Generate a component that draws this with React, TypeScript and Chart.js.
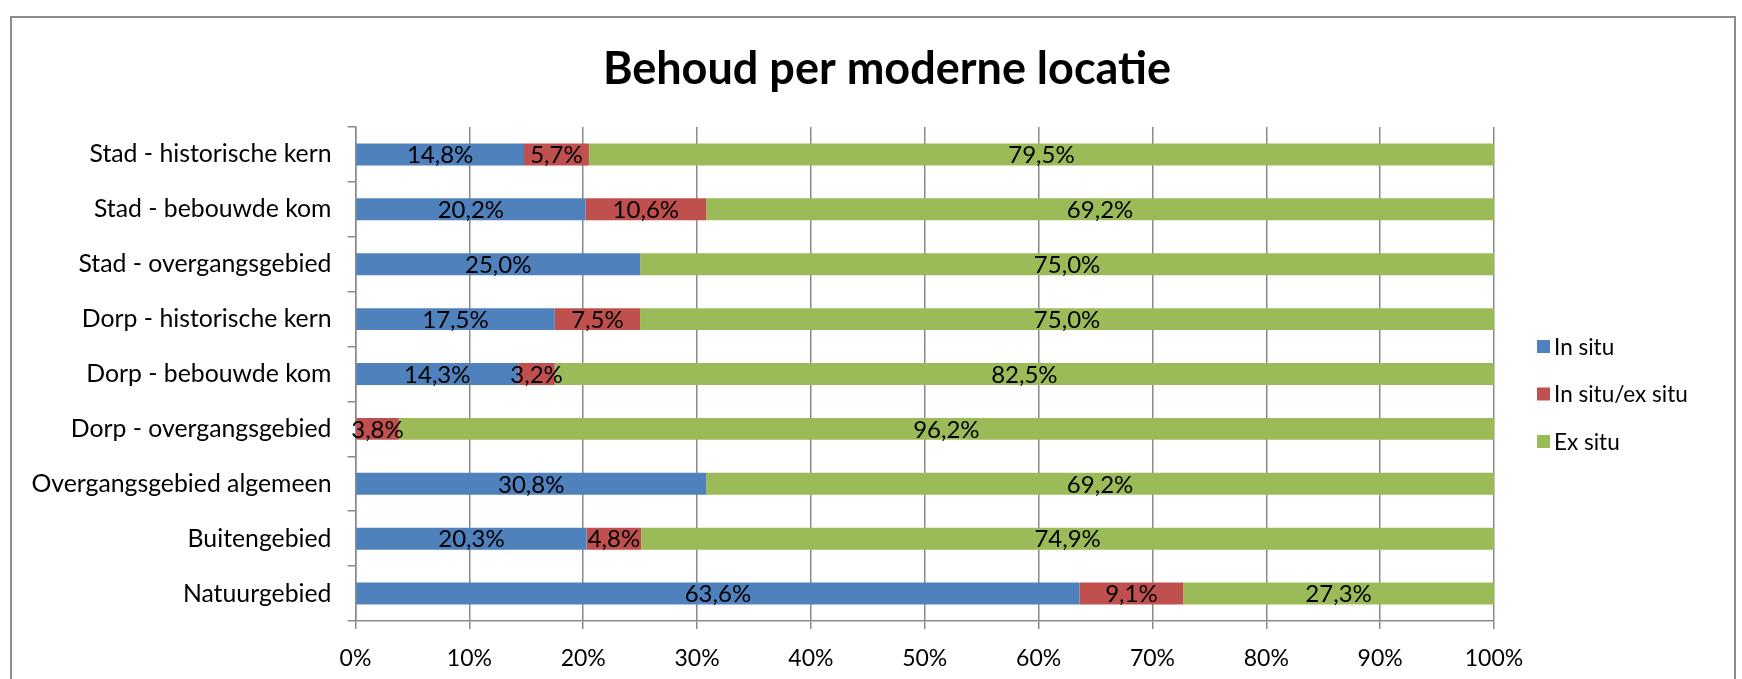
import React, { useEffect, useRef } from "react";
import { Chart, registerables } from "chart.js";

Chart.register(...registerables);

const categories = [
  "Stad - historische kern",
  "Stad - bebouwde kom",
  "Stad - overgangsgebied",
  "Dorp - historische kern",
  "Dorp - bebouwde kom",
  "Dorp - overgangsgebied",
  "Overgangsgebied algemeen",
  "Buitengebied",
  "Natuurgebied",
];
const seriesNames = ["In situ", "In situ/ex situ", "Ex situ"];
const inSitu = [14.8, 20.2, 25.0, 17.5, 14.3, 0, 30.8, 20.3, 63.6];
const inSituExSitu = [5.7, 10.6, 0, 7.5, 3.2, 3.8, 0, 4.8, 9.1];
const exSitu = [79.5, 69.2, 75.0, 75.0, 82.5, 96.2, 69.2, 74.9, 27.3];
const seriesColors = ["#4F81BD", "#C0504D", "#9BBB59"];
const titleText = "Behoud per moderne locatie";

const FONT = "Lato, 'Open Sans', sans-serif";
const GRID = "#8a8a8a";

const fmt = (v: number) => v.toFixed(1).replace(".", ",") + "%";

const dataLabelPlugin = {
  id: "dataLabels",
  afterDatasetsDraw(chart: any) {
    const ctx = chart.ctx;
    ctx.save();
    ctx.font = `24px ${FONT}`;
    ctx.fillStyle = "#000";
    ctx.textAlign = "center";
    ctx.textBaseline = "middle";
    chart.data.datasets.forEach((ds: any, di: number) => {
      const meta = chart.getDatasetMeta(di);
      meta.data.forEach((el: any, i: number) => {
        const v = ds.data[i];
        if (!v) return;
        const p = el.getCenterPoint();
        ctx.fillText(fmt(v), p.x, p.y + 1);
      });
    });
    ctx.restore();
  },
};

const titleLegendPlugin = {
  id: "titleLegend",
  afterDraw(chart: any) {
    const ctx = chart.ctx;
    const area = chart.chartArea;
    ctx.save();
    // title
    ctx.font = `bold 45px ${FONT}`;
    ctx.fillStyle = "#000";
    ctx.textAlign = "center";
    ctx.textBaseline = "middle";
    ctx.fillText(titleText, chart.width / 2 + 16, 69);
    // legend
    const mid = (area.top + area.bottom) / 2 + 20;
    const x = area.right + 43;
    ctx.font = `22.5px ${FONT}`;
    ctx.textAlign = "left";
    seriesNames.forEach((name, i) => {
      const y = mid + (i - 1) * 47.5;
      ctx.fillStyle = seriesColors[i];
      ctx.fillRect(x, y - 6.5, 13, 13);
      ctx.fillStyle = "#000";
      ctx.fillText(name, x + 17, y + 1);
    });
    ctx.restore();
  },
};

export default function App() {
  const ref = useRef<HTMLCanvasElement | null>(null);
  useEffect(() => {
    if (!ref.current) return;
    const series = [inSitu, inSituExSitu, exSitu];
    const chart = new Chart(ref.current, {
      type: "bar",
      data: {
        labels: categories,
        datasets: series.map((d, i) => ({
          label: seriesNames[i],
          data: d,
          backgroundColor: seriesColors[i],
          borderWidth: 0,
          categoryPercentage: 1,
          barPercentage: 0.4,
        })),
      },
      options: {
        indexAxis: "y",
        animation: false,
        responsive: true,
        maintainAspectRatio: false,
        layout: { padding: { left: 12, right: 248, top: 127, bottom: 0 } },
        plugins: {
          legend: { display: false },
          tooltip: { enabled: false },
          title: { display: false },
        },
        scales: {
          x: {
            stacked: true,
            min: 0,
            max: 100,
            ticks: {
              stepSize: 10,
              color: "#000",
              font: { family: FONT, size: 23 },
              padding: 16,
              callback: (v: any) => v + "%",
            },
            grid: { color: GRID, lineWidth: 1.5, tickLength: 8 },
            border: { color: GRID, width: 1.5 },
            afterFit: (s: any) => {
              s.height = 58;
            },
          },
          y: {
            stacked: true,
            ticks: {
              color: "#000",
              font: { family: FONT, size: 24.8 },
              padding: 16,
            },
            grid: {
              color: GRID,
              lineWidth: 1.5,
              tickLength: 8,
              drawOnChartArea: false,
              offset: true,
            },
            border: { color: GRID, width: 1.5 },
            afterFit: (s: any) => {
              s.width = 343.5;
            },
          },
        },
      },
      plugins: [dataLabelPlugin, titleLegendPlugin],
    });
    return () => chart.destroy();
  }, []);

  return (
    <div
      style={{
        position: "fixed",
        left: 0,
        top: 0,
        width: 1742,
        height: 679,
        background: "#fff",
        overflow: "hidden",
      }}
    >
      <div
        style={{
          position: "absolute",
          left: 10,
          top: 16,
          width: 1726,
          height: 720,
          border: "2px solid #8c8c8c",
          boxSizing: "border-box",
        }}
      />
      <div style={{ position: "absolute", left: 0, top: 0, width: 1742, height: 679 }}>
        <canvas ref={ref} />
      </div>
    </div>
  );
}
